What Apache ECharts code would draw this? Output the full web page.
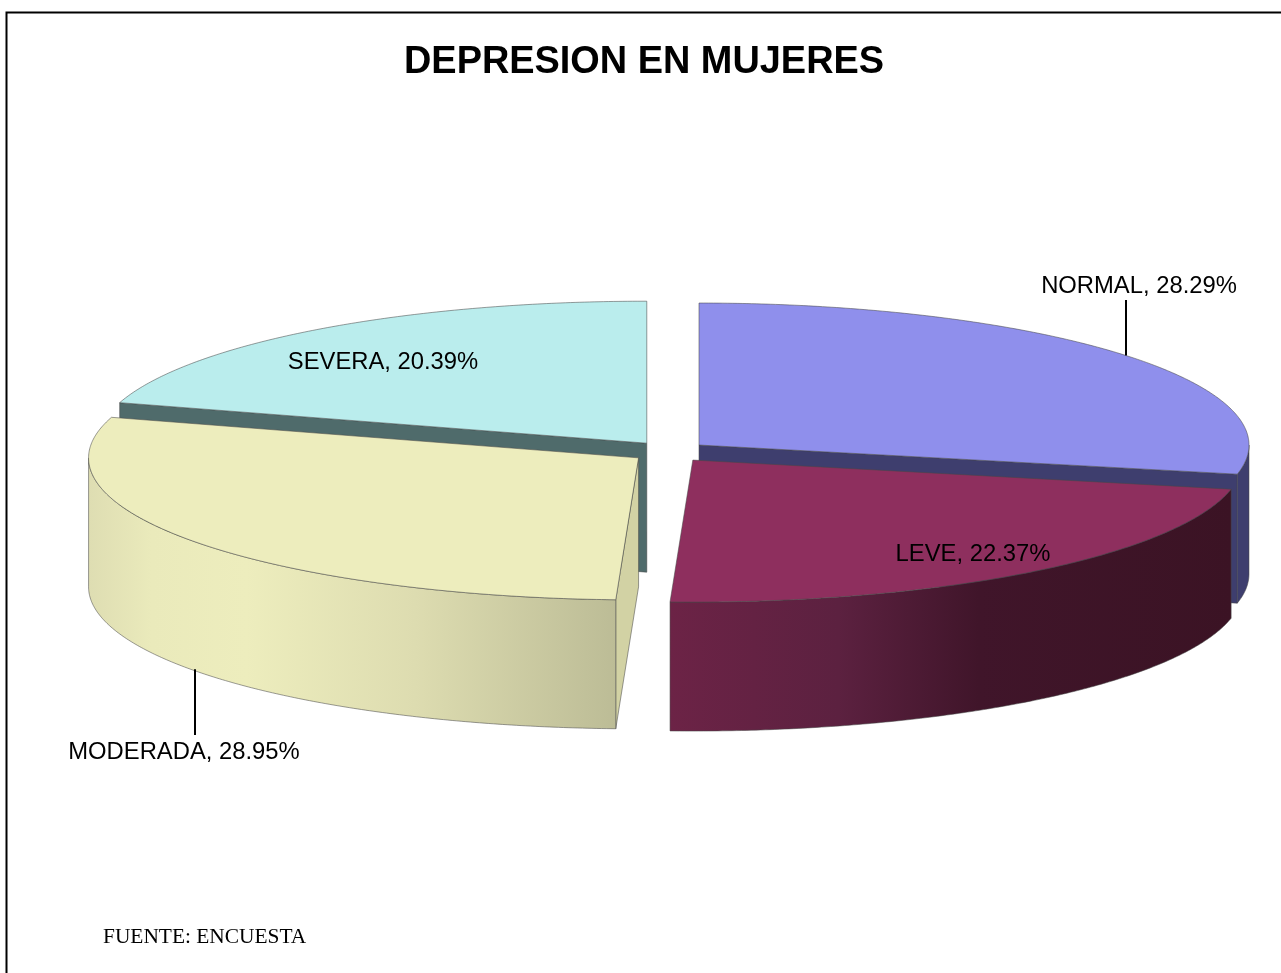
<!DOCTYPE html>
<html>
<head>
<meta charset="utf-8">
<style>html,body{margin:0;padding:0;background:#fff;overflow:hidden}#c{width:1281px;height:973px}</style>
<script src="https://cdn.jsdelivr.net/npm/echarts@6/dist/echarts.min.js"></script>
</head>
<body>
<div id="c"></div>
<script>
const categories = ['NORMAL', 'LEVE', 'MODERADA', 'SEVERA'];
const percents = [28.29, 22.37, 28.95, 20.39];
const topColors = ['#8F8FEC', '#8E2F5E', '#EDEDBD', '#BAEDED'];
const radialWallColors = ['#3E3E6E', '#3E3E6E', '#D2D2A4', '#4F6B6B'];
const outerWallStops = [
  [[0, '#3E3E6E'], [1, '#3E3E6E']],
  [[0, '#6C2346'], [0.3, '#5C2140'], [0.55, '#40152A'], [1, '#3B1324']],
  [[0, '#DEDDB2'], [0.12, '#EAEABB'], [0.3, '#EDEDBD'], [0.62, '#DDDCB0'], [1, '#BCBC96']],
  [[0, '#4F6B6B'], [1, '#4F6B6B']]
];
/* label placement: text centre, and whether a leader joins it to the slice rim */
const labelLayout = [
  { x: 1139, y: 286, leader: 'top', endY: 300, shift: 0 },
  { x: 973, y: 554 },
  { x: 184, y: 752, leader: 'bottom', endY: 735, shift: 4 },
  { x: 383, y: 362 }
];

const PIE = { cx: 669.5, cy: 451.7, rx: 550, ry: 142, depth: 129, explodeX: 38, explodeY: 10.6 };
const EDGE = 'rgba(70,70,70,0.6)';
const rad = d => d * Math.PI / 180;

function rim(c, deg, drop) {
  return [c[0] + PIE.rx * Math.sin(rad(deg)), c[1] - PIE.ry * Math.cos(rad(deg)) + (drop || 0)];
}
function arc(c, a0, a1, drop) {
  const pts = [];
  const n = Math.max(2, Math.ceil(Math.abs(a1 - a0) * 2));
  for (let i = 0; i <= n; i++) pts.push(rim(c, a0 + (a1 - a0) * i / n, drop));
  return pts;
}
function poly(points, fill, z2) {
  return { type: 'polygon', z2: z2, shape: { points: points },
    style: { fill: fill, stroke: EDGE, lineWidth: 0.9 } };
}

function renderSlice(params, api) {
  const i = params.dataIndex;
  const total = percents.reduce((s, v) => s + v, 0);
  const before = percents.slice(0, i).reduce((s, v) => s + v, 0);
  const a0 = before / total * 360;
  const a1 = (before + api.value(0)) / total * 360;
  const mid = (a0 + a1) / 2;
  const c = [PIE.cx + PIE.explodeX * Math.sin(rad(mid)), PIE.cy - PIE.explodeY * Math.cos(rad(mid))];
  const layer = Math.cos(rad(mid)) > 0 ? 0 : 10;
  const children = [];

  // straight cut faces, only when they turn towards the viewer
  [[a0, a0 - 90], [a1, a1 + 90]].forEach(function (e) {
    if (Math.cos(rad(e[1])) < -1e-6) {
      const p = rim(c, e[0]), q = rim(c, e[0], PIE.depth);
      children.push(poly([c, p, q, [c[0], c[1] + PIE.depth]], radialWallColors[i], layer + 1));
    }
  });
  // curved outer wall, front half only
  const f0 = Math.max(a0, 90), f1 = Math.min(a1, 270);
  if (f1 > f0) {
    const top = arc(c, f0, f1, 0), bottom = arc(c, f1, f0, PIE.depth);
    const grad = new echarts.graphic.LinearGradient(0, 0, 1, 0,
      outerWallStops[i].map(s => ({ offset: s[0], color: s[1] })));
    children.push(poly(top.concat(bottom), grad, layer + 2));
  }
  // top face
  children.push(poly([c].concat(arc(c, a0, a1, 0)), topColors[i], layer + 3));

  // label and leader
  const lay = labelLayout[i];
  if (lay.leader) {
    const s = rim(c, mid, lay.leader === 'bottom' ? PIE.depth : 0);
    const lx = Math.round(s[0]) + lay.shift;
    children.push({ type: 'line', z2: 30,
      shape: { x1: lx, y1: s[1], x2: lx, y2: lay.endY },
      style: { stroke: '#000', lineWidth: 2 } });
  }
  children.push({ type: 'text', z2: 31, style: {
    text: categories[i] + ', ' + api.value(0).toFixed(2) + '%',
    x: lay.x, y: lay.y, align: 'center', verticalAlign: 'middle',
    font: '23.8px "Liberation Sans", Arial, sans-serif', fill: '#000' } });
  return { type: 'group', children: children };
}

const chart = echarts.init(document.getElementById('c'), null, { renderer: 'canvas', width: 1281, height: 973 });
chart.setOption({
  animation: false,
  backgroundColor: '#fff',
  title: {
    text: 'DEPRESION EN MUJERES', left: 404, top: 44, padding: 0,
    textStyle: { fontFamily: '"Liberation Sans", Arial, sans-serif', fontWeight: 'bold', fontSize: 37.9, color: '#000' }
  },
  graphic: [
    { type: 'rect', silent: true, z: -1, shape: { x: 6.5, y: 12.5, width: 1290, height: 980 },
      style: { fill: 'none', stroke: '#000', lineWidth: 2 } },
    { type: 'text', silent: true, style: { text: 'FUENTE: ENCUESTA', x: 103, y: 937, verticalAlign: 'middle',
      font: '21.4px "Liberation Serif", "Times New Roman", serif', fill: '#000' } }
  ],
  series: [{
    type: 'custom',
    coordinateSystem: 'none',
    silent: true,
    data: percents.map(v => [v]),
    renderItem: renderSlice
  }]
});
</script>
</body>
</html>
